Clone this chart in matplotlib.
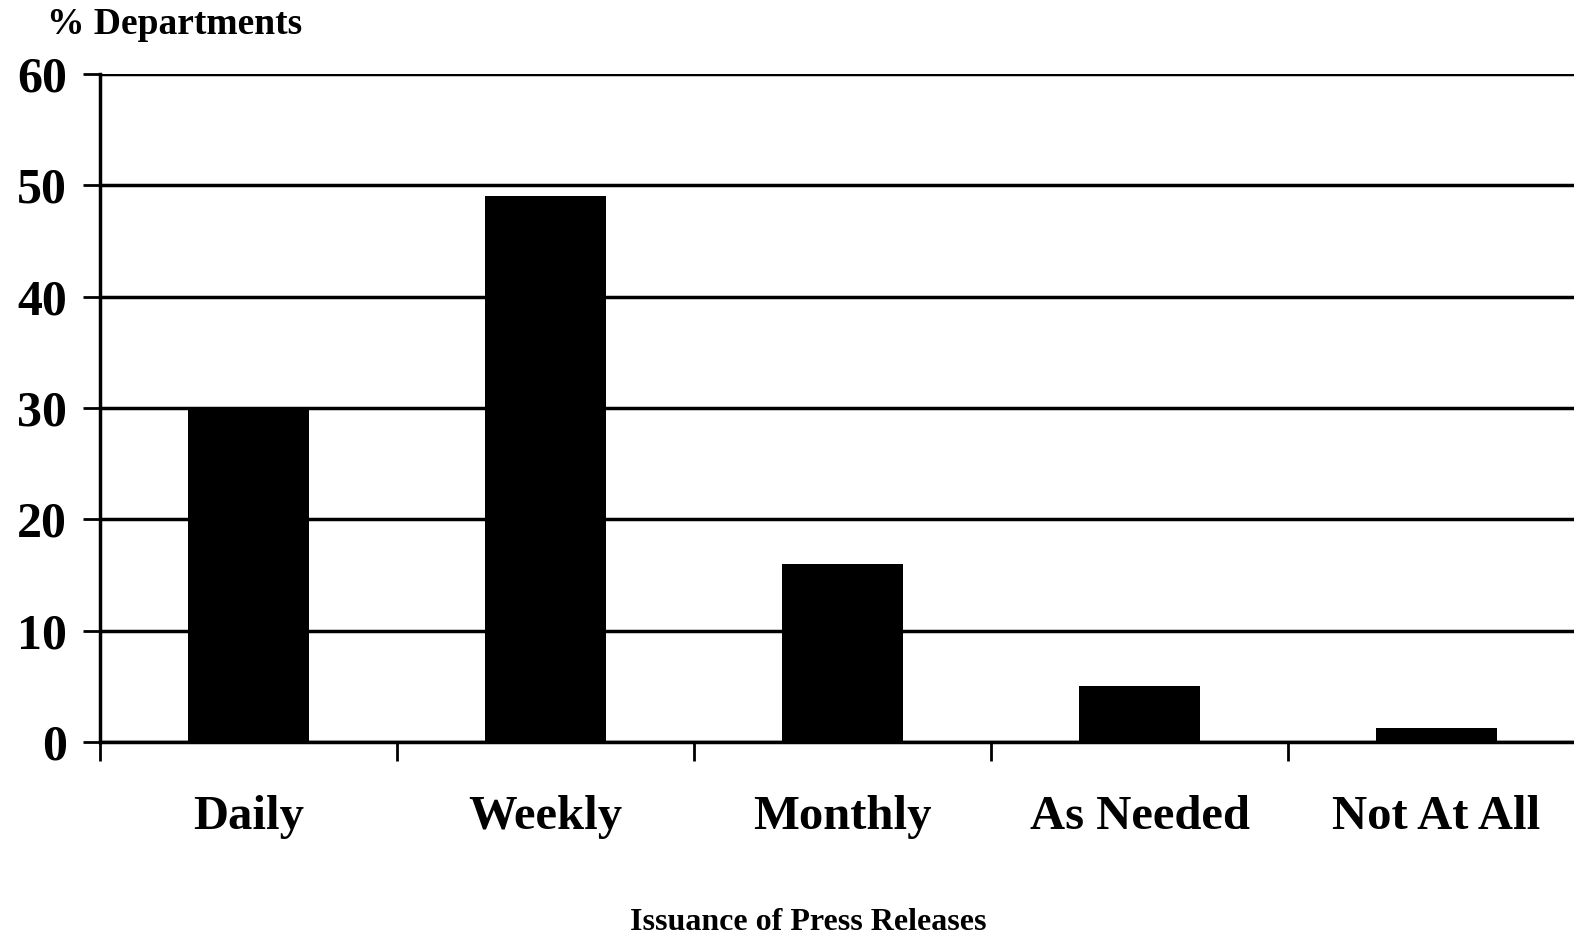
import matplotlib
matplotlib.use("Agg")
import matplotlib.pyplot as plt
import numpy as np

categories = ["Daily", "Weekly", "Monthly", "As Needed", "Not At All"]
values = [30, 49, 16, 5, 1.3]
yticks = [0, 10, 20, 30, 40, 50, 60]

plt.rcParams['font.family'] = ['Liberation Serif', 'DejaVu Serif']
plt.rcParams['font.weight'] = 'bold'

W, H = 1574, 942
fig = plt.figure(figsize=(W/100, H/100), dpi=100)
left = 100/W
bottom = 1 - 742/H
top = 1 - 74/H
width = (1585-100)/W
ax = fig.add_axes([left, bottom, width, top-bottom])

x = np.arange(len(categories))
ax.bar(x, values, width=0.41, color='black', zorder=3)

ax.set_xlim(-0.5, len(categories)-0.5)
ax.set_ylim(0, 60)
ax.set_yticks(yticks)
ax.set_yticklabels([str(t) for t in yticks], fontsize=36, fontweight='bold')
for t in yticks:
    ax.axhline(t, color='black', lw=2.5, zorder=1)

ax.set_xticks(x)
ax.set_xticklabels(categories, fontsize=35, fontweight='bold')
ax.set_xticks(np.arange(-0.5, len(categories)+0.5, 1), minor=True)
ax.tick_params(axis='x', which='major', length=0, pad=38)
ax.tick_params(axis='x', which='minor', length=14, width=2, direction='out', color='black')
ax.tick_params(axis='y', length=12, width=2, pad=12)

for s in ['top', 'right']:
    ax.spines[s].set_visible(False)
ax.spines['left'].set_linewidth(2.5)
ax.spines['bottom'].set_linewidth(2.5)

fig.text(47/W, 1 - 25/H, "% Departments", fontsize=27, fontweight='bold', va='center', ha='left')
fig.text(808/W, 1 - 922/H, "Issuance of Press Releases", fontsize=23, fontweight='bold', va='center', ha='center')

fig.savefig("out.png", dpi=100, facecolor='white')
